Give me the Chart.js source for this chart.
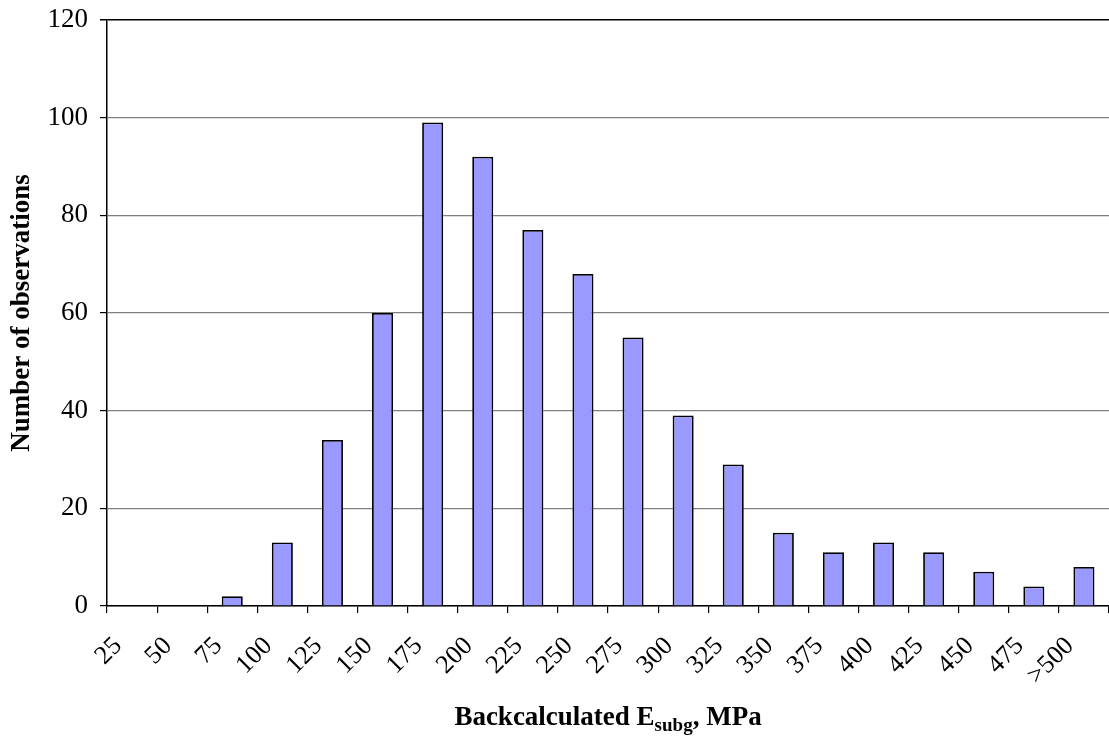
<!DOCTYPE html>
<html>
<head>
<meta charset="utf-8">
<script src="https://cdn.jsdelivr.net/npm/chart.js@4/dist/chart.umd.min.js"></script>
<style>
html,body{margin:0;padding:0;background:#fff;}
#wrap{width:1109px;height:740px;position:relative;}
</style>
</head>
<body>
<div id="wrap"><canvas id="c" width="1109" height="740"></canvas></div>
<script>
const categories = ['25','50','75','100','125','150','175','200','225','250','275','300','325','350','375','400','425','450','475','>500'];
const observations = [0,0,2,13,34,60,99,92,77,68,55,39,29,15,11,13,11,7,4,8];
const yTicks = [0,20,40,60,80,100,120];
const yTitle = 'Number of observations';
const xTitleMain = 'Backcalculated E';
const xTitleSub = 'subg';
const xTitleEnd = ', MPa';

const serif = "'Liberation Serif', 'Times New Roman', serif";

const xTitlePlugin = {
  id: 'xTitle',
  afterDraw(chart) {
    const ctx = chart.ctx;
    const area = chart.chartArea;
    const cx = (area.left + area.right) / 2;
    const y = 725;
    ctx.save();
    ctx.fillStyle = '#000';
    ctx.textBaseline = 'alphabetic';
    ctx.textAlign = 'left';
    const f1 = 'bold 27px ' + serif;
    const f2 = 'bold 19px ' + serif;
    ctx.font = f1; const w1 = ctx.measureText(xTitleMain).width; const w3 = ctx.measureText(xTitleEnd).width;
    ctx.font = f2; const w2 = ctx.measureText(xTitleSub).width;
    let x = cx - (w1 + w2 + w3) / 2;
    ctx.font = f1; ctx.fillText(xTitleMain, x, y); x += w1;
    ctx.font = f2; ctx.fillText(xTitleSub, x, y + 6); x += w2;
    ctx.font = f1; ctx.fillText(xTitleEnd, x, y);
    ctx.restore();
  }
};

new Chart(document.getElementById('c'), {
  type: 'bar',
  data: {
    labels: categories,
    datasets: [{
      data: observations,
      backgroundColor: '#9999FF',
      borderColor: '#000000',
      borderWidth: 1.8,
      categoryPercentage: 1.0,
      barPercentage: 0.42
    }]
  },
  options: {
    responsive: false,
    animation: false,
    devicePixelRatio: 1,
    layout: { padding: { top: 20, right: 0, left: 0, bottom: 0 } },
    plugins: { legend: { display: false }, tooltip: { enabled: false } },
    scales: {
      x: {
        afterFit(scale) { scale.height = 134; scale.paddingLeft = 0; scale.paddingRight = 0; },
        grid: { display: true, drawOnChartArea: false, drawTicks: true, tickLength: 7, tickColor: '#000', offset: true, lineWidth: 1.2 },
        border: { display: true, color: '#000', width: 1.5 },
        ticks: {
          color: '#000',
          font: { family: serif, size: 26 },
          minRotation: 45, maxRotation: 45,
          autoSkip: false,
          labelOffset: -14,
          padding: 18
        },
        title: { display: false }
      },
      y: {
        min: 0, max: 120,
        afterFit(scale) { scale.width = 107; scale.paddingTop = 0; scale.paddingBottom = 0; },
        afterBuildTicks(scale) { scale.ticks = yTicks.map(v => ({ value: v })); },
        grid: {
          color: ctx => (ctx.tick && ctx.tick.value === 120) ? '#000' : '#808080',
          lineWidth: ctx => (ctx.tick && ctx.tick.value === 120) ? 1.5 : 1.2,
          drawTicks: true, tickLength: 7, tickColor: '#000'
        },
        border: { display: true, color: '#000', width: 1.5 },
        ticks: {
          color: '#000',
          font: { family: serif, size: 27 },
          padding: 12
        },
        title: {
          display: true,
          text: yTitle,
          color: '#000',
          font: { family: serif, size: 27, weight: 'bold' },
          padding: { top: 6, bottom: 4 }
        }
      }
    }
  },
  plugins: [xTitlePlugin]
});
</script>
</body>
</html>
